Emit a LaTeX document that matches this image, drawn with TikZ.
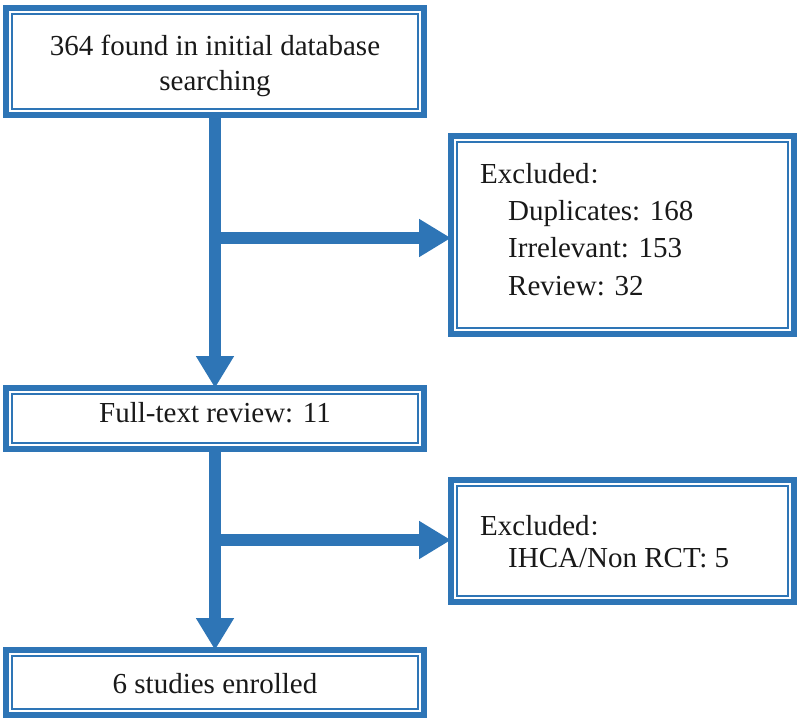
\documentclass[tikz,border=0pt]{standalone}
\usepackage{fontspec}
\setmainfont{Liberation Serif}
\newfontfamily\cjk{Noto Sans CJK SC}
\usetikzlibrary{arrows.meta}
\definecolor{flowblue}{RGB}{46,117,182}
\newcommand{\widecolon}{{\cjk\fontsize{22}{26}\selectfont ：}}
\tikzset{
  flowbox/.style={draw=flowblue, fill=white, line width=6pt, inner sep=0pt, outer sep=0pt},
  flowtext/.style={inner sep=0pt, font=\fontsize{29}{35}\selectfont, text=black!90},
  flowarrow/.style={draw=flowblue, line width=12pt, -{Triangle[length=32pt,width=36pt]}},
  innerline/.style={draw=flowblue, line width=2pt}
}
\begin{document}
\begin{tikzpicture}[x=1pt,y=-1pt]
\useasboundingbox (0,0) rectangle (800,721);
% boxes
\node[flowbox, minimum width=418pt, minimum height=107pt] (b1) at (215,61.5) {};
\node[flowbox, minimum width=343pt, minimum height=198pt] (x1) at (622.5,235) {};
\node[flowbox, minimum width=418pt, minimum height=61pt] (b2) at (215,418.5) {};
\node[flowbox, minimum width=343pt, minimum height=122pt] (x2) at (622.5,541) {};
\node[flowbox, minimum width=418pt, minimum height=65pt] (b3) at (215,682.5) {};
\foreach \n in {b1,x1,b2,x2,b3}
  \draw[innerline] ([xshift=6pt,yshift=-6pt]\n.north west) rectangle ([xshift=-6pt,yshift=6pt]\n.south east);
% connectors
\coordinate (j1) at (215,238);
\coordinate (j2) at (215,540);
\draw[flowarrow] (b1.south) -- (b2.north);
\draw[flowarrow] (j1) -- (j1 -| x1.west);
\draw[flowarrow] (b2.south) -- (b3.north);
\draw[flowarrow] (j2) -- (j2 -| x2.west);
% texts
\node[flowtext, anchor=base] (t1a) at (215,55) {364 found in initial database};
\node[flowtext, anchor=base] (t1b) at (215,90) {searching};
\node[flowtext, anchor=base west] (e1) at (480,183) {Excluded\widecolon};
\node[flowtext, anchor=base west] (e1a) at (508,220) {Duplicates: 168};
\node[flowtext, anchor=base west] (e1b) at (508,257) {Irrelevant: 153};
\node[flowtext, anchor=base west] (e1c) at (508,295) {Review: 32};
\node[flowtext, anchor=base] (t2) at (215,422) {Full-text review: 11};
\node[flowtext, anchor=base west] (e2) at (480,535) {Excluded\widecolon};
\node[flowtext, anchor=base west] (e2a) at (508,567) {IHCA/Non RCT: 5};
\node[flowtext, anchor=base] (t3) at (215,693) {6 studies enrolled};
\end{tikzpicture}
\end{document}
